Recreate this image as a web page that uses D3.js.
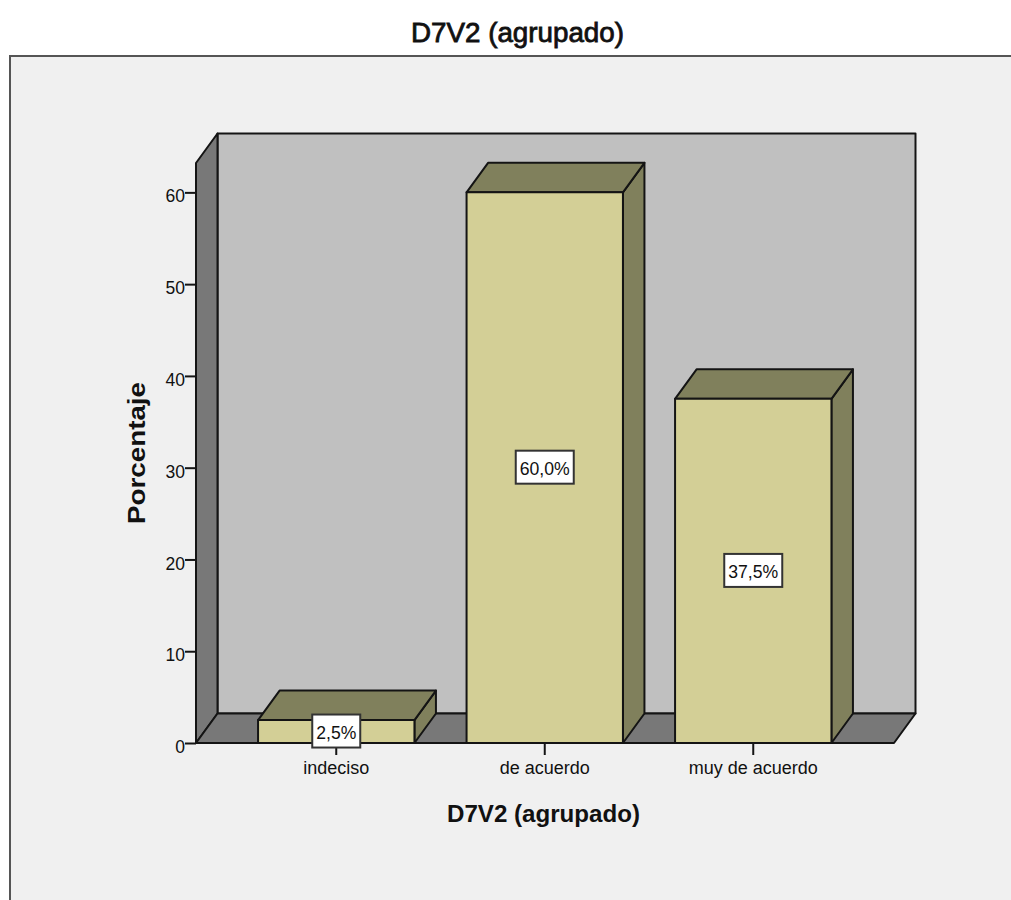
<!DOCTYPE html>
<meta charset="utf-8">
<title>D7V2 (agrupado)</title>
<body>
<script src="https://d3js.org/d3.v7.min.js"></script>
<style>
html, body {
    margin: 0;
    background: #fff;
}

svg {
    display: block;
}

text {
    font-family: "Liberation Sans", Arial, sans-serif;
    fill: #111;
}

.edge {
    stroke: #141414;
    stroke-width: 2;
    stroke-linejoin: round;
}
</style>
<script>
var categories = ["indeciso", "de acuerdo", "muy de acuerdo"],
    percentages = [2.5, 60.0, 37.5],
    valueLabels = ["2,5%", "60,0%", "37,5%"],
    yTicks = [0, 10, 20, 30, 40, 50, 60];

var width = 1011,
    height = 900,
    depthX = 21.5,
    depthY = -29.5,
    x0 = 196,
    x1 = 894,
    yMax = 63.2;

var x = d3.scaleBand()
    .domain(categories)
    .range([232, 857.5])
    .paddingInner(0.25)
    .paddingOuter(0.125);

var y = d3.scaleLinear()
    .domain([0, yMax])
    .range([743, 163]);

var svg = d3.select("body").append("svg")
    .attr("width", width)
    .attr("height", height);

// outer frame, open on the right and the bottom
svg.append("rect")
    .attr("x", 10).attr("y", 56)
    .attr("width", width - 10).attr("height", height - 56)
    .attr("fill", "#f0f0f0");
svg.append("path")
    .attr("d", "M10," + height + "V56H" + width)
    .attr("fill", "none")
    .attr("stroke", "#555")
    .attr("stroke-width", 2);

function poly(points, fill) {
    return svg.append("path")
        .attr("class", "edge")
        .attr("d", d3.line()(points) + "Z")
        .attr("fill", fill);
}

// back wall, left wall, floor
var bottom = y(0), top_ = y(yMax);
poly([[x0 + depthX, top_ + depthY], [x1 + depthX, top_ + depthY], [x1 + depthX, bottom + depthY], [x0 + depthX, bottom + depthY]], "#c0c0c0");
poly([[x0, top_], [x0 + depthX, top_ + depthY], [x0 + depthX, bottom + depthY], [x0, bottom]], "#787878");
poly([[x0, bottom], [x0 + depthX, bottom + depthY], [x1 + depthX, bottom + depthY], [x1, bottom]], "#787878");

// y axis
var yAxis = d3.axisLeft(y)
    .tickValues(yTicks)
    .tickSize(11)
    .tickPadding(0);

var yG = svg.append("g")
    .attr("transform", "translate(" + x0 + ",0)")
    .call(yAxis);
yG.select(".domain").remove();
yG.selectAll("line").attr("stroke", "#141414").attr("stroke-width", 2);
yG.selectAll("text").attr("font-size", 17.5).attr("dy", "0.55em");
yG.attr("font-size", null).attr("font-family", null);

// x axis
var xAxis = d3.axisBottom(x)
    .tickSize(12)
    .tickPadding(6);

var xG = svg.append("g")
    .attr("transform", "translate(0," + bottom + ")")
    .call(xAxis);
xG.select(".domain").remove();
xG.selectAll("line").attr("stroke", "#141414").attr("stroke-width", 2);
xG.selectAll("text").attr("font-size", 18);
xG.attr("font-size", null).attr("font-family", null);

// bars
categories.forEach(function(c, i) {
    var l = x(c),
        r = l + x.bandwidth(),
        t = y(percentages[i]);
    poly([[r, t], [r + depthX, t + depthY], [r + depthX, bottom + depthY], [r, bottom]], "#80805c");
    poly([[l, t], [l + depthX, t + depthY], [r + depthX, t + depthY], [r, t]], "#80805c");
    poly([[l, t], [r, t], [r, bottom], [l, bottom]], "#d3cf96");
});

// value labels sit at the middle of each bar
categories.forEach(function(c, i) {
    var cx = x(c) + x.bandwidth() / 2,
        cy = y(percentages[i] / 2);
    var w = i === 0 ? 48 : 58;
    svg.append("rect")
        .attr("x", cx - w / 2).attr("y", cy - 17)
        .attr("width", w).attr("height", 33)
        .attr("fill", "#fff")
        .attr("stroke", "#333")
        .attr("stroke-width", 2);
    svg.append("text")
        .attr("x", cx).attr("y", cy + 7)
        .attr("text-anchor", "middle")
        .attr("font-size", 19)
        .attr("textLength", w - 8)
        .attr("lengthAdjust", "spacingAndGlyphs")
        .text(valueLabels[i]);
});

// titles
svg.append("text")
    .attr("x", 517.5).attr("y", 42)
    .attr("text-anchor", "middle")
    .attr("font-size", 27)
    .attr("stroke", "#111")
    .attr("stroke-width", 0.8)
    .attr("textLength", 213)
    .attr("lengthAdjust", "spacingAndGlyphs")
    .text("D7V2 (agrupado)");

svg.append("text")
    .attr("x", 543.5).attr("y", 822)
    .attr("text-anchor", "middle")
    .attr("font-size", 24)
    .attr("font-weight", "bold")
    .attr("textLength", 193)
    .attr("lengthAdjust", "spacingAndGlyphs")
    .text("D7V2 (agrupado)");

svg.append("text")
    .attr("transform", "translate(145,453) rotate(-90)")
    .attr("text-anchor", "middle")
    .attr("font-size", 23)
    .attr("font-weight", "bold")
    .attr("textLength", 142)
    .attr("lengthAdjust", "spacingAndGlyphs")
    .text("Porcentaje");
</script>
